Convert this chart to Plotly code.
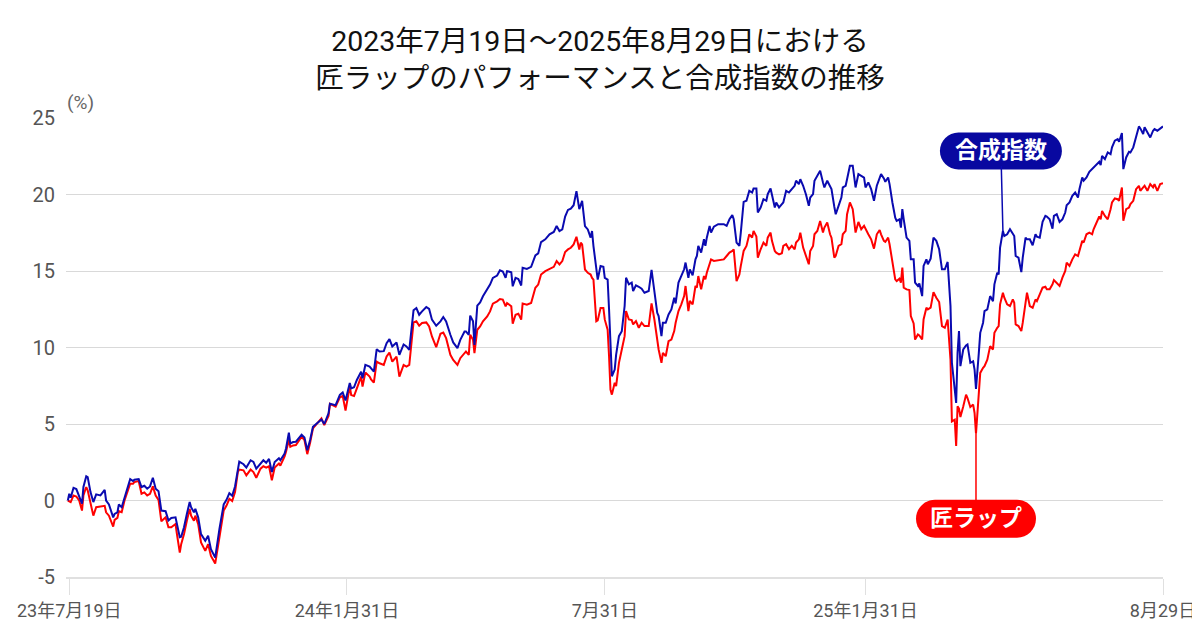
import pandas as pd
import plotly.graph_objects as go

# 経過日数（2023年7月19日起点）
START = "2023-07-19"
day_offsets = [
    -1, 0, 1, 3, 5, 7, 9, 10, 12, 13, 15, 17, 19, 22, 25, 26, 28, 31, 32, 34,
    35, 37, 39, 43, 45, 46, 49, 51, 53, 55, 57, 59, 61, 63, 65, 68, 70, 72, 75, 76,
    78, 79, 81, 83, 85, 86, 88, 89, 91, 93, 96, 98, 100, 103, 104, 106, 109, 111, 113, 115,
    117, 119, 120, 123, 125, 128, 130, 132, 135, 137, 139, 141, 143, 145, 148, 149, 152, 153, 155, 156,
    158, 160, 164, 166, 168, 170, 172, 175, 178, 180, 183, 184, 188, 191, 193, 195, 198,
    199, 201, 203, 206, 207, 209, 212, 213, 215, 217, 219, 222, 224, 226, 228, 231, 233, 236, 238,
    240, 243, 245, 247, 249, 252, 254, 256, 259, 262, 264, 266, 269, 271, 274, 276, 279, 280, 282, 283,
    285, 286, 288, 290, 292, 295, 297, 299, 302, 304, 306, 308, 309, 312, 313, 315, 317, 319, 320, 323,
    326, 329, 331, 333, 336, 339, 342, 344, 346, 348, 350, 352, 354, 356, 358, 360, 361, 362, 364, 366,
    368, 369, 370, 372, 373, 375, 377, 378, 380,
    381, 382, 383, 385, 386, 388, 390, 392, 393, 395, 397, 398, 400, 402, 404, 406, 409, 411, 413, 415,
    416, 418, 419, 421, 423, 425, 427, 428, 430, 432, 434, 435, 437, 438, 440, 442, 443, 444, 446, 448,
    449, 450, 452, 453, 455, 458, 462, 464, 466, 468, 469, 471, 473, 474, 476, 478, 480, 482, 483, 485,
    486, 488, 490, 492, 493, 495, 496, 498, 499, 501, 503, 504, 506, 508, 510, 512, 513, 515, 516, 518,
    520, 522, 523, 525, 526, 528, 530, 532, 533, 535, 537, 538, 540, 541, 543, 545, 546, 548, 549, 551,
    553, 555, 557, 559, 561, 562, 564, 566, 568, 570, 572,
    573, 575, 576, 578, 579, 581, 583, 584, 586, 587, 588, 589, 591, 593, 594, 596, 597, 599, 600, 602,
    603, 605, 606, 608, 610, 612, 614, 616, 618, 620, 622, 623, 625, 626, 627, 628, 629, 631, 633, 634,
    636, 638, 639, 640, 642, 643, 645, 646, 648, 650, 652, 653, 655, 656, 657, 659, 660, 662, 664, 666,
    667, 668, 670, 672, 673, 675, 676, 678, 680, 682, 683, 685, 687, 689, 690, 692, 694, 695, 697, 699,
    701, 703, 704, 706, 708, 710, 712, 713, 715, 716, 718, 720, 722, 723, 725, 727, 728, 729, 731, 733,
    735, 736, 738, 740, 741, 743, 744, 746, 748, 749, 751, 753, 755, 756, 758, 759, 761, 763, 765, 766,
    768, 770, 772,
]

# 合成指数（%）
index_vals = [
    0.0, 0.44, 0.18, 0.83, 0.75, 0.33, -0.2, 0.88, 1.58, 1.53, 0.55, -0.1, 0.4, 0.33, 0.7, 0.0, -0.26, -1.1, -0.88, -0.77,
    -0.26, -0.44, 0.22, 1.4, 1.27, 1.36, 1.4, 0.88, 0.96, 0.77, 0.92, 1.49, 0.77, 0.61, -0.66, -0.7, -1.3, -1.14, -1.1, -1.54,
    -2.4, -2.37, -1.75, -0.88, -0.1, -0.44, -0.77, -0.55, -1.1, -2.2, -2.63, -2.3, -3.18, -3.73, -3.07, -1.86, -0.26, 0.04, 0.48, 0.31,
    0.92, 2.19, 2.54, 2.37, 2.15, 2.63, 2.52, 2.08, 2.41, 2.63, 2.46, 2.72, 1.86, 2.52, 2.76, 2.63, 3.07, 3.4, 4.43, 3.73,
    3.82, 3.84, 4.3, 4.12, 3.29, 3.95, 4.82, 5.04, 5.3, 5.0, 5.7, 6.32, 6.23, 6.9, 7.06, 6.54, 7.68,
    7.33, 7.4, 7.88, 8.42, 7.99, 8.86, 8.75, 8.64, 8.42, 9.89, 9.74, 9.76, 10.28, 10.55, 10.07, 10.33, 9.52, 10.2, 10.07,
    9.85, 12.43, 12.58, 12.14, 12.36, 12.65, 12.52, 11.82, 11.42, 11.71, 11.99, 11.71, 10.83, 10.33, 9.96, 10.5, 11.05, 11.05, 10.83, 12.08,
    11.71, 10.17, 12.74, 12.95, 13.35, 13.79, 14.11, 14.55, 14.7, 15.05, 14.97, 14.55, 14.99, 14.92, 14.0, 14.55, 14.48, 14.05, 15.21, 15.14,
    15.27, 16.02, 16.15, 16.89, 17.07, 17.4, 17.55, 17.94, 17.61, 17.72, 18.56, 18.99, 19.08, 19.3, 20.22, 19.04, 19.26, 19.58, 17.94, 17.72,
    17.18, 17.61, 16.63, 14.88, 14.44, 15.32, 15.27, 14.55, 14.44,
    12.49, 10.31, 8.12, 8.56, 9.54, 10.74, 11.07, 12.71, 14.56, 14.13, 14.24, 13.69, 14.06, 13.97, 13.84, 13.58, 13.69, 15.07, 13.8, 12.27,
    12.05, 10.74, 11.62, 11.62, 12.16, 12.49, 13.25, 12.88, 14.24, 14.72, 15.11, 15.55, 14.56, 15.11, 14.72, 15.76, 15.98, 16.64, 16.2, 17.07,
    16.64, 17.18, 17.95, 17.51, 17.9, 18.06, 18.06, 17.95, 18.38, 18.65, 18.38, 16.86, 16.64, 17.51, 19.52, 19.59, 20.24, 20.13, 20.39, 20.39,
    18.82, 19.15, 19.69, 19.59, 20.02, 20.39, 20.02, 19.15, 19.48, 19.15, 19.37, 19.48, 20.24, 20.13, 20.35, 20.57, 20.9, 20.68, 21.0, 20.57,
    20.0, 19.26, 19.8, 20.02, 20.9, 21.22, 21.55, 20.79, 20.46, 20.9, 20.57, 20.35, 19.2, 18.71, 19.26, 19.8, 20.46, 20.57, 21.0, 21.88,
    21.88, 20.46, 21.33, 21.22, 21.11, 20.46, 20.79, 20.35, 19.59, 20.57, 21.11,
    21.33, 21.05, 20.83, 21.11, 20.68, 19.48, 18.49, 18.28, 18.38, 17.84, 19.04, 18.38, 17.18, 16.97, 15.76, 15.76, 14.24, 14.02, 14.19, 13.36,
    15.33, 15.76, 15.44, 15.81, 17.18, 16.97, 16.42, 15.11, 15.11, 15.59, 12.71, 9.0, 7.47, 6.38, 9.65, 11.07, 8.78, 9.87, 10.13, 10.2,
    9.0, 9.1, 8.56, 7.29, 9.65, 10.96, 11.62, 12.38, 12.49, 13.36, 13.03, 14.13, 14.89, 14.78, 16.53, 17.62, 17.29, 17.4, 17.73, 17.4,
    17.29, 15.98, 15.87, 14.93, 15.87, 17.18, 17.07, 17.07, 16.68, 17.4, 17.25, 17.18, 18.21, 18.6, 18.56, 18.38, 17.77, 18.6, 18.71, 18.21,
    18.38, 18.82, 19.3, 19.48, 19.91, 20.13, 19.8, 20.35, 21.11, 20.9, 21.11, 21.48, 21.66, 21.77, 21.99, 22.14, 21.92, 22.53, 22.31, 22.75,
    22.64, 23.08, 23.52, 23.62, 23.45, 24.02, 21.66, 22.42, 22.79, 22.75, 23.08, 23.73, 24.45, 24.32, 23.95, 24.39, 24.06, 23.73, 24.17, 24.28,
    24.17, 24.32, 24.45,
]

# 匠ラップ（%）
wrap_vals = [
    0.0, -0.04, -0.1, 0.33, 0.26, 0.0, -0.66, 0.33, 0.88, 0.66, -0.1, -0.99, -0.44, -0.4, -0.35, -0.77, -0.99, -1.71, -1.27, -1.14,
    -0.7, -0.77, 0.0, 1.1, 1.1, 1.2, 1.27, 0.44, 0.53, 0.33, 0.44, 0.92, 0.33, 0.04, -1.36, -1.1, -1.75, -1.75, -1.54, -2.19,
    -3.4, -2.85, -2.19, -1.32, -0.55, -0.99, -1.32, -0.99, -1.54, -2.74, -3.29, -2.85, -3.62, -4.12, -3.62, -2.41, -0.66, -0.33, 0.11, -0.04,
    0.55, 1.86, 2.02, 1.97, 1.64, 2.02, 1.86, 1.49, 2.08, 2.24, 2.15, 2.24, 1.32, 2.15, 2.41, 2.28, 2.89, 3.18, 3.95, 3.51,
    3.6, 3.62, 4.17, 3.95, 3.03, 3.77, 4.71, 5.04, 5.37, 4.93, 5.53, 6.32, 6.14, 6.75, 6.84, 5.88, 7.46,
    6.89, 6.83, 7.33, 8.1, 7.44, 8.36, 8.1, 7.92, 7.7, 9.08, 8.97, 8.86, 9.41, 9.67, 9.08, 9.41, 8.1, 8.86, 8.75,
    8.86, 11.64, 11.71, 11.42, 11.6, 11.64, 11.38, 10.72, 10.02, 10.9, 10.98, 10.61, 9.52, 9.19, 8.86, 9.3, 9.63, 9.74, 9.52, 10.83,
    10.5, 9.63, 11.16, 11.38, 11.71, 12.03, 12.36, 12.87, 13.02, 13.17, 13.13, 12.69, 12.91, 12.69, 11.55, 12.14, 12.21, 11.82, 12.87, 12.8,
    12.91, 13.9, 14.11, 14.77, 14.99, 15.14, 15.27, 15.65, 15.43, 15.65, 16.24, 16.41, 16.52, 16.74, 17.24, 16.41, 16.85, 16.74, 15.1, 14.88,
    14.77, 14.55, 14.44, 11.71, 11.77, 12.58, 12.58, 11.82, 11.16,
    9.43, 7.25, 6.92, 7.69, 7.47, 9.0, 9.87, 10.74, 12.38, 11.83, 11.79, 11.51, 11.72, 11.29, 11.62, 11.4, 11.4, 12.88, 11.83, 10.31,
    9.87, 9.0, 9.65, 9.43, 10.41, 10.52, 11.07, 11.62, 12.38, 12.82, 13.36, 14.02, 12.38, 13.04, 12.82, 14.02, 13.91, 14.67, 13.8, 14.67,
    14.45, 14.89, 15.44, 15.76, 15.66, 15.72, 15.76, 15.98, 16.2, 16.31, 16.42, 14.34, 14.78, 15.33, 16.31, 16.64, 17.4, 17.18, 17.62, 17.25,
    15.87, 16.42, 16.86, 16.64, 17.18, 17.51, 16.97, 16.31, 16.2, 16.09, 16.16, 16.64, 16.75, 16.42, 16.64, 16.42, 16.86, 17.07, 17.51, 16.53,
    15.9, 15.44, 16.31, 16.64, 17.4, 17.62, 18.27, 17.51, 17.84, 18.17, 17.4, 17.18, 15.87, 16.0, 16.64, 16.75, 17.4, 17.62, 18.71, 19.48,
    19.04, 17.51, 18.21, 17.73, 17.95, 17.73, 17.4, 17.07, 16.46, 17.4, 17.68,
    17.4, 16.97, 16.9, 17.18, 16.75, 15.55, 14.45, 14.34, 14.5, 14.24, 15.22, 13.91, 13.8, 13.76, 12.05, 11.57, 10.52, 10.85, 10.79, 10.52,
    11.83, 12.6, 12.49, 12.6, 13.62, 13.25, 12.97, 11.4, 11.29, 11.83, 9.21, 5.17, 5.28, 3.57, 6.15, 6.0, 5.46, 6.15, 6.92, 6.7,
    6.11, 6.27, 5.72, 4.37, 7.47, 8.34, 8.67, 8.78, 9.21, 10.09, 9.87, 10.96, 11.29, 11.4, 12.82, 13.58, 13.25, 12.82, 12.71, 13.14,
    12.93, 11.51, 11.4, 11.07, 11.62, 13.14, 13.58, 12.71, 12.6, 13.14, 13.03, 13.47, 13.91, 13.97, 13.8, 13.8, 14.13, 14.41, 14.24, 14.02,
    14.56, 15.0, 15.55, 15.33, 15.76, 16.09, 15.98, 16.31, 16.97, 16.86, 17.4, 17.51, 17.4, 17.73, 18.17, 18.56, 18.38, 18.93, 18.6, 18.38,
    19.04, 19.48, 19.74, 19.69, 19.59, 20.46, 18.28, 19.04, 19.15, 19.37, 19.59, 20.35, 20.57, 20.24, 20.46, 20.57, 20.24, 20.68, 20.46, 20.68,
    20.24, 20.68, 20.74,
]

tick_dates = ["2023-07-19", "2024-01-31", "2024-07-31", "2025-01-31", "2025-08-29"]
tick_labels = ["23年7月19日", "24年1月31日", "7月31日", "25年1月31日", "8月29日"]
y_ticks = [-5, 0, 5, 10, 15, 20, 25]
y_tick_labels = ["-5", "0", "5", "10", "15", "20", "25"]

BLUE = "#0a0ab0"
RED = "#ff0000"
LABEL_BLUE = "#0808a0"
FONT = "Roboto, 'Noto Sans CJK JP', sans-serif"

# ページ本文の余白(8px)ぶん図を小さくして 1200x640 に収める
W, H = 1192, 632

dates = pd.Timestamp(START) + pd.to_timedelta(day_offsets, unit="D")


def pill(cx, cy, w, h):
    # 角丸ラベルの背景（ピクセル単位）
    r = h / 2
    k = 0.5523 * r
    xl, xr = cx - w / 2 + r, cx + w / 2 - r
    xL, xR = cx - w / 2, cx + w / 2
    top, bot = cy + r, cy - r
    return (f"M{xl},{top} L{xr},{top} "
            f"C{xr + k},{top} {xR},{cy + k} {xR},{cy} "
            f"C{xR},{cy - k} {xr + k},{bot} {xr},{bot} "
            f"L{xl},{bot} "
            f"C{xl - k},{bot} {xL},{cy - k} {xL},{cy} "
            f"C{xL},{cy + k} {xl - k},{top} {xl},{top} Z")


fig = go.Figure()
fig.add_trace(go.Scatter(x=dates, y=wrap_vals, mode="lines", name="匠ラップ",
                         line=dict(color=RED, width=2)))
fig.add_trace(go.Scatter(x=dates, y=index_vals, mode="lines", name="合成指数",
                         line=dict(color=BLUE, width=2)))

# ラベル（合成指数 / 匠ラップ）
labels = [
    ("合成指数", index_vals, 659, LABEL_BLUE, BLUE, -2, 80, 122, 37),
    ("匠ラップ", wrap_vals, 640, RED, RED, 0, -85, 120, 38),
]
for text, vals, day, bg, lc, dx, dy, w, h in labels:
    i = day_offsets.index(day)
    xd, yd = dates[i], vals[i]
    fig.add_shape(type="path", xref="x", yref="y", xsizemode="pixel", ysizemode="pixel",
                  xanchor=xd, yanchor=yd, path=pill(dx, dy, w, h),
                  fillcolor=bg, line=dict(width=0), layer="above")
    fig.add_annotation(x=xd, y=yd, ax=dx, ay=-dy, text=f"<b>{text}</b>",
                       showarrow=True, arrowhead=0, arrowwidth=1.5, arrowcolor=lc,
                       standoff=0, font=dict(size=23, color="white", family=FONT))

fig.add_annotation(text="(%)", xref="paper", yref="paper", x=0.0128, y=1.0,
                   xanchor="center", yanchor="middle", yshift=16,
                   showarrow=False, font=dict(size=19, color="#666", family=FONT))

fig.update_layout(
    width=W, height=H,
    margin=dict(l=58, r=37, t=110, b=63),
    paper_bgcolor="white", plot_bgcolor="white",
    showlegend=False,
    font=dict(family=FONT, color="#555"),
    title=dict(text="2023年7月19日～2025年8月29日における<br>匠ラップのパフォーマンスと合成指数の推移",
               x=592 / W, xanchor="center", y=1 - 43 / H, yanchor="top",
               font=dict(size=28.5, color="#111", family=FONT)),
)
fig.update_xaxes(
    type="date", automargin=False,
    range=[pd.Timestamp(START) - pd.Timedelta(days=2.3), pd.Timestamp("2025-08-29")],
    tickvals=tick_dates, ticktext=tick_labels,
    showgrid=False, zeroline=False,
    showline=True, linecolor="#e0e0e0", linewidth=2,
    ticks="outside", ticklen=16, tickcolor="#e0e0e0", tickwidth=1,
    tickfont=dict(size=18, color="#555"),
)
fig.update_yaxes(
    automargin=False,
    range=[-5, 25], tickvals=y_ticks, ticktext=y_tick_labels,
    showgrid=True, gridcolor="#d9d9d9", gridwidth=1, zeroline=False,
    ticks="", ticklabelstandoff=10,
    tickfont=dict(size=20, color="#555"),
)

fig.write_html("out.html")
